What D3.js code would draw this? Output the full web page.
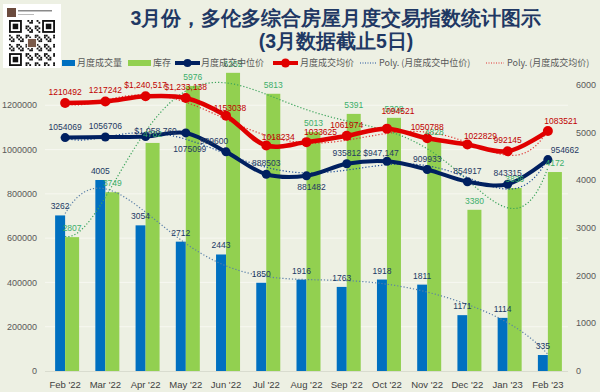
<!DOCTYPE html>
<html>
<head>
<meta charset="utf-8">
<script src="https://cdn.jsdelivr.net/npm/d3@7"></script>
<style>
  body { margin: 0; background: #edf0e3; }
  svg { display: block; }
  text { font-family: "Liberation Sans", Arial, sans-serif; }
</style>
</head>
<body>
<svg id="chart" width="600" height="392"></svg>
<script>
// 1. Data
const months = ["Feb '22", "Mar '22", "Apr '22", "May '22", "Jun '22", "Jul '22", "Aug '22",
  "Sep '22", "Oct '22", "Nov '22", "Dec '22", "Jan '23", "Feb '23"];
const volume = [3262, 4005, 3054, 2712, 2443, 1850, 1916, 1763, 1918, 1811, 1171, 1114, 335];
const inventory = [2807, 3749, 4782, 5976, 6252, 5813, 5013, 5391, 5308, 4828, 3380, 3836, 4172];
const medianPrice = [1054069, 1056706, 1058760, 1075099, 989600, 888503, 881482, 935812, 947147,
  909933, 854917, 843315, 954662];
const avgPrice = [1210492, 1217242, 1240517, 1233138, 1153038, 1018234, 1033625, 1061974, 1094521,
  1050788, 1022829, 992145, 1083521];
// months whose label is shown in currency format
const medianCurrency = [2, 8];
const avgCurrency = [2, 3];
const leftTicks = [0, 200000, 400000, 600000, 800000, 1000000, 1200000];
const rightTicks = [0, 1000, 2000, 3000, 4000, 5000, 6000];

// 2. Setup
const width = 600, height = 392;
const margin = { top: 61, right: 32, bottom: 21, left: 45 };
const svg = d3.select("#chart");

const x = d3.scaleBand().domain(months).range([margin.left, width - margin.right]).padding(0);
const cx = (d) => x(d) + x.bandwidth() / 2;
const yLeft = d3.scaleLinear().domain([0, 1400000]).range([height - margin.bottom, margin.top]);
const yRight = d3.scaleLinear().domain([0, 6500]).range([height - margin.bottom, margin.top]);

const fmtCur = d3.format("$,");

// gridlines
svg.append("g")
  .selectAll("line")
  .data(leftTicks.slice(1))
  .enter()
  .append("line")
  .attr("x1", margin.left)
  .attr("x2", width - margin.right)
  .attr("y1", (d) => yLeft(d))
  .attr("y2", (d) => yLeft(d))
  .attr("stroke", "#f7f8f1")
  .attr("stroke-width", 1);

svg.append("line")
  .attr("x1", margin.left).attr("x2", width - margin.right)
  .attr("y1", yLeft(0) + 0.5).attr("y2", yLeft(0) + 0.5)
  .attr("stroke", "#d9dccf");

// axes labels
svg.append("g")
  .selectAll("text")
  .data(leftTicks)
  .enter()
  .append("text")
  .attr("x", 37)
  .attr("y", (d) => yLeft(d))
  .attr("dy", "0.35em")
  .attr("text-anchor", "end")
  .attr("font-size", 9)
  .attr("fill", "#595959")
  .text((d) => d);

svg.append("g")
  .selectAll("text")
  .data(rightTicks)
  .enter()
  .append("text")
  .attr("x", 576)
  .attr("y", (d) => yRight(d))
  .attr("dy", "0.35em")
  .attr("font-size", 9)
  .attr("fill", "#595959")
  .text((d) => d);

svg.append("g")
  .selectAll("text")
  .data(months)
  .enter()
  .append("text")
  .attr("x", (d) => cx(d))
  .attr("y", 388)
  .attr("text-anchor", "middle")
  .attr("font-size", 9.5)
  .attr("fill", "#404040")
  .text((d) => d);

// 3. Bars (secondary axis)
svg.append("g")
  .selectAll("rect")
  .data(volume)
  .enter()
  .append("rect")
  .attr("x", (d, i) => cx(months[i]) - 10)
  .attr("width", 10)
  .attr("y", (d) => yRight(d))
  .attr("height", (d) => yRight(0) - yRight(d))
  .attr("fill", "#0070c0");

svg.append("g")
  .selectAll("rect")
  .data(inventory)
  .enter()
  .append("rect")
  .attr("x", (d, i) => cx(months[i]))
  .attr("width", 14)
  .attr("y", (d) => yRight(d))
  .attr("height", (d) => yRight(0) - yRight(d))
  .attr("fill", "#92d050");

// 4. Polynomial trendlines (order 6, like Excel's Poly.)
function polyFit(ys, order) {
  const n = ys.length, h = (n - 1) / 2, m = order + 1;
  const A = Array.from({ length: m }, () => new Array(m + 1).fill(0));
  ys.forEach((yv, k) => {
    const t = (k - h) / h;
    for (let i = 0; i < m; i++) {
      for (let j = 0; j < m; j++) A[i][j] += Math.pow(t, i + j);
      A[i][m] += Math.pow(t, i) * yv;
    }
  });
  for (let c = 0; c < m; c++) {
    let p = c;
    for (let r = c + 1; r < m; r++) if (Math.abs(A[r][c]) > Math.abs(A[p][c])) p = r;
    [A[c], A[p]] = [A[p], A[c]];
    for (let r = 0; r < m; r++) {
      if (r === c) continue;
      const f = A[r][c] / A[c][c];
      for (let k = c; k <= m; k++) A[r][k] -= f * A[c][k];
    }
  }
  const coef = A.map((row, i) => row[m] / row[i]);
  return (k) => {
    const t = (k - h) / h;
    return coef.reduce((s, c, i) => s + c * Math.pow(t, i), 0);
  };
}

const steps = d3.range(0, months.length - 1 + 0.001, 0.1);
const xAt = (k) => cx(months[0]) + k * x.step();

function trend(values, scale, color) {
  const f = polyFit(values, 6);
  svg.append("path")
    .datum(steps)
    .attr("fill", "none")
    .attr("stroke", color)
    .attr("stroke-width", 1.2)
    .attr("stroke-dasharray", "1.2,2")
    .attr("d", d3.line().x((k) => xAt(k)).y((k) => scale(f(k))));
}
trend(volume, yRight, "#5a7fa8");
trend(inventory, yRight, "#3aa35a");
trend(medianPrice, yLeft, "#1f4e9a");
trend(avgPrice, yLeft, "#e03030");

// 5. Price lines
function priceLine(values, color, w, r) {
  svg.append("path")
    .datum(values)
    .attr("fill", "none")
    .attr("stroke", color)
    .attr("stroke-width", w)
    .attr("d", d3.line()
      .x((d, i) => cx(months[i]))
      .y((d) => yLeft(d))
      .curve(d3.curveCatmullRom.alpha(0.5)));
  svg.append("g")
    .selectAll("circle")
    .data(values)
    .enter()
    .append("circle")
    .attr("cx", (d, i) => cx(months[i]))
    .attr("cy", (d) => yLeft(d))
    .attr("r", r)
    .attr("fill", color);
}
priceLine(medianPrice, "#002060", 4, 4.5);
priceLine(avgPrice, "#e00000", 4.5, 5);

// 6. Data labels
// small nudges where the original labels were dragged off centre
const medianShift = { 2: [10, 5], 3: [4, 27], 4: [-12, 0], 6: [5, 22], 8: [-6, 3], 12: [17, 1] };
const avgShift = { 4: [4, 3], 5: [12, 2], 6: [14, 1], 8: [11, -7], 10: [13, 2], 12: [13, 1] };

function labels(values, yScale, xOff, dy, color, shift, fmt) {
  svg.append("g")
    .selectAll("text")
    .data(values)
    .enter()
    .append("text")
    .attr("x", (d, i) => cx(months[i]) + xOff + ((shift[i] || [0, 0])[0]))
    .attr("y", (d, i) => yScale(d) + dy + ((shift[i] || [0, 0])[1]))
    .attr("text-anchor", "middle")
    .attr("font-size", 8.5)
    .attr("fill", color)
    .text((d, i) => fmt(d, i));
}
labels(volume, yRight, -5, -6, "#203864", {}, (d) => d);
labels(inventory, yRight, 7, -6, "#3cae6a", {}, (d) => d);
labels(medianPrice, yLeft, 0, -8, "#1f3864", medianShift,
  (d, i) => (medianCurrency.includes(i) ? fmtCur(d) : d));
labels(avgPrice, yLeft, 0, -8, "#c00000", avgShift,
  (d, i) => (avgCurrency.includes(i) ? fmtCur(d) : d));

// 7. Legend
const legend = svg.append("g").attr("font-size", 9).attr("fill", "#595959");
const ly = 63;
const cjk = '"Noto Sans CJK SC", sans-serif';
legend.append("rect").attr("x", 62).attr("y", ly - 3).attr("width", 13).attr("height", 6).attr("fill", "#0070c0");
legend.append("text").attr("x", 77).attr("y", ly).attr("dy", "0.35em").style("font-family", cjk).text("月度成交量");
legend.append("rect").attr("x", 128).attr("y", ly - 3).attr("width", 23).attr("height", 6).attr("fill", "#92d050");
legend.append("text").attr("x", 153).attr("y", ly).attr("dy", "0.35em").style("font-family", cjk).text("库存");
legend.append("line").attr("x1", 175).attr("x2", 200).attr("y1", ly).attr("y2", ly).attr("stroke", "#002060").attr("stroke-width", 4);
legend.append("circle").attr("cx", 187.5).attr("cy", ly).attr("r", 4).attr("fill", "#002060");
legend.append("text").attr("x", 201).attr("y", ly).attr("dy", "0.35em").style("font-family", cjk).text("月度成交中位价");
legend.append("line").attr("x1", 273).attr("x2", 298).attr("y1", ly).attr("y2", ly).attr("stroke", "#e00000").attr("stroke-width", 4);
legend.append("circle").attr("cx", 285.5).attr("cy", ly).attr("r", 4.5).attr("fill", "#e00000");
legend.append("text").attr("x", 300).attr("y", ly).attr("dy", "0.35em").style("font-family", cjk).text("月度成交均价");
legend.append("line").attr("x1", 360).attr("x2", 376).attr("y1", ly).attr("y2", ly).attr("stroke", "#1f4e9a").attr("stroke-width", 1).attr("stroke-dasharray", "1,1.5");
legend.append("text").attr("x", 379).attr("y", ly).attr("dy", "0.35em").style("font-family", cjk).text("Poly. (月度成交中位价)");
legend.append("line").attr("x1", 486).attr("x2", 504).attr("y1", ly).attr("y2", ly).attr("stroke", "#e03030").attr("stroke-width", 1).attr("stroke-dasharray", "1,1.5");
legend.append("text").attr("x", 507).attr("y", ly).attr("dy", "0.35em").style("font-family", cjk).text("Poly. (月度成交均价)");

// 8. Title
const title = svg.append("g")
  .attr("text-anchor", "middle")
  .attr("fill", "#1f3864")
  .attr("font-weight", "bold")
  .style("font-family", cjk);
title.append("text").attr("x", 336).attr("y", 25).attr("font-size", 19.5).text("3月份，多伦多综合房屋月度交易指数统计图示");
title.append("text").attr("x", 336).attr("y", 48).attr("font-size", 19.5).text("(3月数据截止5日)");

// 9. QR code badge (decoration)
const qr = svg.append("g");
qr.append("rect").attr("x", 3).attr("y", 4).attr("width", 58).attr("height", 64).attr("fill", "#ffffff");
qr.append("rect").attr("x", 7).attr("y", 8).attr("width", 9).attr("height", 9).attr("fill", "#6b4b3e");
qr.append("rect").attr("x", 18).attr("y", 10).attr("width", 34).attr("height", 1.5).attr("fill", "#8a8a8a");
qr.append("rect").attr("x", 18).attr("y", 14).attr("width", 16).attr("height", 1).attr("fill", "#bbbbbb");
const mod = 1.84, q0x = 9, q0y = 20, N = 25;
const cells = [];
for (let r = 0; r < N; r++) {
  for (let c = 0; c < N; c++) {
    const inFinder = (r < 8 && c < 8) || (r < 8 && c >= N - 8) || (r >= N - 8 && c < 8);
    if (inFinder) continue;
    if (((r * 7 + c * 13 + r * c) % 5) < 2) cells.push([r, c]);
  }
}
qr.append("g")
  .selectAll("rect")
  .data(cells)
  .enter()
  .append("rect")
  .attr("x", (d) => q0x + d[1] * mod)
  .attr("y", (d) => q0y + d[0] * mod)
  .attr("width", mod)
  .attr("height", mod)
  .attr("fill", "#111");
[[0, 0], [0, N - 7], [N - 7, 0]].forEach(([r, c]) => {
  qr.append("rect").attr("x", q0x + c * mod + mod / 2).attr("y", q0y + r * mod + mod / 2)
    .attr("width", 6 * mod).attr("height", 6 * mod).attr("fill", "none").attr("stroke", "#111").attr("stroke-width", mod);
  qr.append("rect").attr("x", q0x + (c + 2) * mod).attr("y", q0y + (r + 2) * mod)
    .attr("width", 3 * mod).attr("height", 3 * mod).attr("fill", "#111");
});
qr.append("rect").attr("x", q0x + 10 * mod).attr("y", q0y + 10 * mod).attr("width", 5 * mod).attr("height", 5 * mod).attr("fill", "#7a5a4a").attr("stroke", "#fff");
</script>
</body>
</html>
